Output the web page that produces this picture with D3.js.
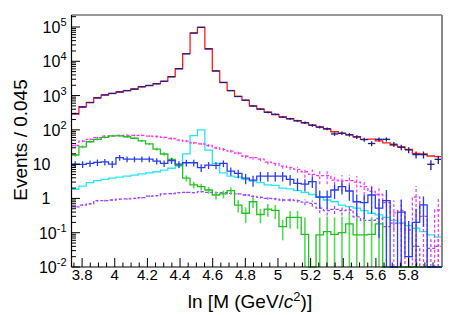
<!DOCTYPE html>
<html>
<head>
<meta charset="utf-8">
<script src="https://cdn.jsdelivr.net/npm/d3@7"></script>
<style>
  body { margin: 0; background: #fff; }
  text { font-family: "Liberation Sans", Arial, Helvetica, sans-serif; }
</style>
</head>
<body>
<div id="chart"></div>
<script>
// binning of ln M
const binLo = 3.735;
const binW = 0.0454;
const nBins = 50;

// total fit (red)
const totalFit = [290, 473, 620, 866, 1037, 1163, 1270, 1387, 1553, 1813,
  1963, 2218, 2606, 3548, 6070, 16630, 66700, 97700, 23200, 5200,
  2433, 1387, 950, 727, 500, 400, 330, 280, 240, 210,
  185, 160, 138, 123, 105, 88, 79, 71, 63, 53,
  54, 48, 42, 36, 32, 27, 20.7, 19.8, 17.3, 16.5];

// data points (navy)
const dataEvents = [300, 460, 630, 850, 1050, 1150, 1280, 1400, 1540, 1800,
  1980, 2200, 2620, 3520, 6100, 16500, 67000, 98000, 23000, 5250,
  2400, 1400, 940, 735, 495, 405, 325, 285, 235, 212,
  183, 162, 136, 120, 108, 76, 80, 72, 62, 52,
  40, 53, 53, 38, 31, 26, 19, 19, 9.9, 13.8];
const dataErr = [17, 21, 25, 29, 32, 34, 36, 37, 39, 42,
  44, 47, 51, 59, 78, 128, 259, 313, 152, 72,
  49, 37, 31, 27, 22, 20, 18, 17, 15, 15,
  14, 13, 12, 11, 10, 9, 9, 8.5, 8, 7,
  6.5, 7.3, 7.3, 6.2, 5.6, 5.1, 4.4, 4.4, 3.2, 3.7];

// magenta dashed component
const compMagenta = [35, 47, 53, 59, 66, 66, 69, 69, 69, 69,
  66, 64, 60, 56, 50, 47, 42, 39, 35, 30,
  27, 24, 21, 17, 15.5, 14, 11.5, 10.5, 8.8, 8,
  7, 6, 5, 4.6, 4.6, 3.4, 3.2, 3.3, 3.0, 2.2,
  1.6, 1.3, 0.75, 0.38, 0.45, 0, 1.1, 0.3, 0, 0.46];
const compMagentaErr = [3, 3.5, 3.7, 3.9, 4, 4, 4.1, 4.1, 4.1, 4.1,
  4, 4, 3.8, 3.7, 3.5, 3.4, 3.2, 3.1, 2.9, 2.7,
  2.6, 2.4, 2.3, 2.1, 2.0, 1.9, 1.7, 1.6, 1.5, 1.4,
  1.4, 2, 2, 2, 2, 1.6, 1.6, 1.6, 1.5, 1.3,
  1.1, 1.0, 0.8, 0.5, 0.5, 0, 1.2, 0.4, 0, 0.6];

// green component
const compGreen = [18.5, 32, 45, 53, 60, 67, 67, 63, 57, 48,
  39, 27.5, 19.8, 13.8, 9.2, 3.9, 2.5, 2.2, 1.76, 1.26,
  1.35, 1.68, 0.64, 0.37, 0.8, 0.34, 0.49, 0.45, 0.15, 0.28,
  0.28, 0.09, 0, 0.086, 0.107, 0.09, 0.1, 0.18, 0.086, 0.086,
  0.09, 0.18, 0, 0, 0, 0, 0, 0, 0, 0];
const compGreenErr = [2, 3, 3.5, 3.8, 4, 4.2, 4.2, 4, 3.8, 3.5,
  3.2, 2.7, 2.3, 1.9, 1.6, 0.8, 0.55, 0.5, 0.4, 0.33,
  0.35, 0.4, 0.25, 0.18, 0.27, 0.15, 0.2, 0.2, 0.09, 0.15,
  0.15, 0.19, 0, 0.19, 0.19, 0.19, 0.19, 0.2, 0.19, 0.19,
  0.19, 0.2, 0, 0, 0, 0, 0, 0, 0, 0];

// blue component
const compBlue = [9.9, 9.9, 10.5, 11.2, 11.7, 10, 15.5, 14, 14, 14,
  14, 12.3, 10.5, 12.6, 10, 11, 11, 7.9, 9.4, 9.2,
  10.5, 6.3, 5.4, 3.9, 3.4, 4.5, 4.5, 4.5, 4.5, 3.6,
  2.75, 2.6, 3.1, 1.1, 1.1, 1.76, 2.2, 1.65, 0.8, 0.75,
  1.26, 0.52, 0.86, 0, 0.4, 0.02, 0.2, 0.65, 0, 0];
const compBlueErr = [2.2, 2.2, 2.3, 2.4, 2.5, 2.3, 2.9, 2.7, 2.7, 2.7,
  2.7, 2.5, 2.3, 2.5, 2.2, 2.4, 2.4, 2.0, 2.2, 2.1,
  2.3, 1.7, 1.5, 1.3, 1.2, 1.4, 1.4, 1.4, 1.4, 1.2,
  1.1, 1.0, 1.1, 0.6, 0.6, 0.8, 0.9, 0.8, 0.5, 0.5,
  0.9, 0.45, 0.9, 0, 0.5, 0.2, 0.3, 0.5, 0, 0];

// cyan component (no errors)
const compCyan = [1.85, 2.3, 2.9, 3.3, 3.6, 3.9, 4.2, 4.5, 4.8, 5.2,
  5.6, 6, 6.7, 7.6, 8.8, 20, 68, 100, 25.6, 10.5,
  5.6, 4.5, 4.2, 3.6, 3.2, 2.9, 2.5, 2.4, 2.0, 1.9,
  1.68, 1.5, 1.3, 1.07, 0.9, 0.8, 0.64, 0.58, 0.52, 0.44,
  0.37, 0.33, 0.28, 0.23, 0.19, 0.16, 0.135, 0.107, 0.086, 0.074];

// violet dashed component
const compViolet = [0.57, 0.64, 0.69, 0.86, 0.86, 0.9, 0.95, 0.97, 1.0, 1.05,
  1.17, 1.2, 1.35, 1.38, 1.47, 1.5, 1.47, 1.57, 1.5, 1.47,
  1.47, 1.4, 1.35, 1.26, 1.15, 1.07, 1.0, 0.97, 0.9, 0.9,
  0.86, 0.78, 0.72, 0.52, 0.44, 0.48, 0.44, 0.46, 0.29, 0.23,
  0.23, 0.26, 0.15, 0.19, 0.19, 0.12, 0.04, 0, 0.035, 0.04];
const compVioletErr = [0.04, 0.04, 0.04, 0.05, 0.05, 0.05, 0.05, 0.05, 0.05, 0.05,
  0.06, 0.06, 0.06, 0.06, 0.07, 0.07, 0.07, 0.07, 0.07, 0.07,
  0.08, 0.08, 0.08, 0.08, 0.08, 0.08, 0.08, 0.08, 0.08, 0.08,
  0.1, 0.15, 0.15, 0.15, 0.12, 0.13, 0.12, 0.12, 0.08, 0.07,
  0.07, 0.08, 0.06, 0.07, 0.07, 0.06, 0.03, 0, 0.03, 0.03];

// axis labels
const xTickValues = [3.8, 4.0, 4.2, 4.4, 4.6, 4.8, 5.0, 5.2, 5.4, 5.6, 5.8];
const xTickLabels = ["3.8", "4", "4.2", "4.4", "4.6", "4.8", "5", "5.2", "5.4", "5.6", "5.8"];
const yTickValues = [1e-2, 1e-1, 1, 10, 1e2, 1e3, 1e4, 1e5];
const yTickExp = ["-2", "-1", "", "", "2", "3", "4", "5"];
const yTickBase = ["10", "10", "1", "10", "10", "10", "10", "10"];

let margin = { left: 71.5, right: 21, top: 15, bottom: 48 };
let width = 463 - margin.left - margin.right;
let height = 315 - margin.top - margin.bottom;

let svg = d3.select("#chart")
  .append("svg")
    .attr("width", 463)
    .attr("height", 315);

let g = svg.append("g")
  .attr("transform", "translate(" + margin.left + "," + margin.top + ")");

let x = d3.scaleLinear()
  .domain([binLo, binLo + nBins * binW])
  .range([0, width]);

let y = d3.scaleLog()
  .domain([0.01, 2.24e5])
  .range([height, 0])
  .clamp(true);

let edges = d3.range(nBins + 1).map(i => binLo + i * binW);
let yv = v => v > 0.01 ? y(v) : height;

let stepPath = (vals) => {
  let pts = [];
  vals.forEach((v, i) => { pts.push([edges[i], v], [edges[i + 1], v]); });
  return d3.line().x(d => x(d[0])).y(d => yv(d[1]))(pts);
};

let drawErrors = (vals, errs, color, dash, width) => {
  g.append("g")
    .selectAll("line")
    .data(vals.map((v, i) => ({ v: v, e: errs[i], i: i })).filter(d => d.e > 0))
    .enter()
    .append("line")
      .attr("x1", d => x(edges[d.i] + binW / 2))
      .attr("x2", d => x(edges[d.i] + binW / 2))
      .attr("y1", d => yv(d.v - d.e))
      .attr("y2", d => yv(d.v + d.e))
      .attr("stroke", color)
      .attr("stroke-width", width)
      .attr("stroke-dasharray", dash);
};

let drawHist = (vals, color, dash) => {
  g.append("path")
    .attr("d", stepPath(vals))
    .attr("fill", "none")
    .attr("stroke", color)
    .attr("stroke-width", 1.3)
    .attr("stroke-dasharray", dash);
};

// components
drawHist(compCyan, "#22e8f0", null);
drawErrors(compViolet, compVioletErr, "#9944ff", "3,2", 1.2);
drawHist(compViolet, "#9944ff", "3,2");
drawErrors(compMagenta, compMagentaErr, "#f03cf0", "3,2", 1.2);
drawHist(compMagenta, "#f03cf0", "3,2");
drawErrors(compGreen, compGreenErr, "#55d855", null, 1.6);
drawHist(compGreen, "#22c022", null);
drawErrors(compBlue, compBlueErr, "#2a3cf0", null, 1.3);
drawHist(compBlue, "#2a3cf0", null);

// total fit
drawHist(totalFit, "#ff1a1a", null);

// data
drawErrors(dataEvents, dataErr, "#1c1c8c", null, 1.3);
g.append("g")
  .selectAll("line")
  .data(dataEvents)
  .enter()
  .append("line")
    .attr("x1", (d, i) => x(edges[i]))
    .attr("x2", (d, i) => x(edges[i + 1]))
    .attr("y1", d => yv(d))
    .attr("y2", d => yv(d))
    .attr("stroke", "#1c1c8c")
    .attr("stroke-width", 1.3);

// frame
g.append("line").attr("x1", 0).attr("x2", width).attr("y1", 0).attr("y2", 0)
  .attr("stroke", "#333").attr("stroke-width", 1.2);
g.append("line").attr("x1", width).attr("x2", width).attr("y1", 0).attr("y2", height)
  .attr("stroke", "#888").attr("stroke-width", 2);

// x axis
let xAxis = g.append("g").attr("transform", "translate(0," + height + ")");
xAxis.append("line").attr("x1", 0).attr("x2", width).attr("stroke", "#000").attr("stroke-width", 1.2);
xAxis.selectAll(".minor")
  .data(d3.range(3.75, 6.0, 0.05))
  .enter()
  .append("line")
    .attr("x1", d => x(d)).attr("x2", d => x(d))
    .attr("y1", 0)
    .attr("y2", (d, i) => Math.abs(((d - 3.8) / 0.2) - Math.round((d - 3.8) / 0.2)) < 0.01 ? -9 : -4.5)
    .attr("stroke", "#000");
xAxis.selectAll("text")
  .data(xTickValues)
  .enter()
  .append("text")
    .attr("x", d => x(d))
    .attr("y", 13)
    .attr("text-anchor", "middle")
    .attr("font-size", 15)
    .text((d, i) => xTickLabels[i]);

// y axis
let yAxis = g.append("g");
yAxis.append("line").attr("x1", 0).attr("x2", 0).attr("y1", 0).attr("y2", height)
  .attr("stroke", "#000").attr("stroke-width", 1.2);
let yMinor = [];
for (let p = -2; p <= 5; p++) {
  for (let m = 1; m <= 9; m++) {
    let v = m * Math.pow(10, p);
    if (v <= y.domain()[1]) yMinor.push({ v: v, major: m === 1 });
  }
}
yAxis.selectAll(".tick")
  .data(yMinor)
  .enter()
  .append("line")
    .attr("x1", 0)
    .attr("x2", d => d.major ? 8.5 : 4.5)
    .attr("y1", d => y(d.v))
    .attr("y2", d => y(d.v))
    .attr("stroke", "#000");

let yLab = yAxis.selectAll(".lab")
  .data(yTickValues)
  .enter()
  .append("text")
    .attr("x", (d, i) => yTickExp[i] === "" ? -21 : -5)
    .attr("y", d => y(d) + 6)
    .attr("text-anchor", "end")
    .attr("font-size", 16);
yLab.append("tspan").text((d, i) => yTickBase[i]);
yLab.filter((d, i) => yTickExp[i] !== "")
  .append("tspan")
    .attr("dy", -7)
    .attr("font-size", 11)
    .text(d => yTickExp[yTickValues.indexOf(d)]);

// titles
svg.append("text")
  .attr("transform", "translate(27," + 140 + ") rotate(-90)")
  .attr("text-anchor", "middle")
  .attr("font-size", 19)
  .text("Events / 0.045");

let xt = svg.append("text")
  .attr("x", 250)
  .attr("y", 308)
  .attr("text-anchor", "middle")
  .attr("font-size", 19);
xt.append("tspan").text("ln [M (GeV/");
xt.append("tspan").attr("font-style", "italic").text("c");
xt.append("tspan").attr("dy", -7).attr("font-size", 13).text("2");
xt.append("tspan").attr("dy", 7).text(")]");
</script>
</body>
</html>
